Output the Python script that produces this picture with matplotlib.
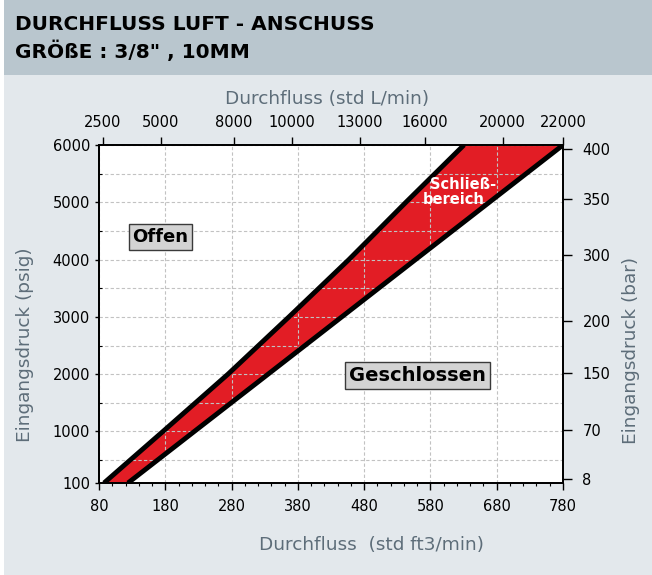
import matplotlib
matplotlib.use('Agg')
import matplotlib.pyplot as plt
from matplotlib.patches import Rectangle
from matplotlib.ticker import MultipleLocator, FixedLocator

# Band limits (Eingangsdruck psig -> Durchfluss std ft3/min)
psi_pts = [100, 500, 1000, 2000, 3000, 4000, 5000, 6000]
upper_cfm = [87.5, 127, 176.5, 274.6, 366.6, 457, 543, 630.6]
lower_cfm = [123.7, 168.2, 223.8, 335.1, 446.3, 557.5, 668.8, 780]

# bottom axis
cfm_ticks = [80, 180, 280, 380, 480, 580, 680, 780]
# left axis
psi_ticks = [100, 1000, 2000, 3000, 4000, 5000, 6000]
# top axis (std L/min), positions in cfm as drawn in the original
lpm_labels = [2500, 5000, 8000, 10000, 13000, 16000, 20000, 22000]
lpm_pos_cfm = [86, 173, 283, 371, 474, 572, 689, 780]
# right axis (bar), positions in psig as drawn in the original
bar_labels = [8, 70, 150, 200, 300, 350, 400]
bar_pos_psi = [170, 1025, 2020, 2928, 4080, 5057, 5930]

TITLE1 = 'DURCHFLUSS LUFT - ANSCHUSS'
TITLE2 = 'GRÖßE : 3/8" , 10MM'

W, H = 652, 575
HEADER_C = '#b9c6ce'
BG_C = '#e3e8ec'
LABEL_C = '#5d6d79'
RED = '#e21d25'

plt.rcParams['font.family'] = ['DejaVu Sans']

fig = plt.figure(figsize=(W / 100, H / 100), dpi=100)
fig.patch.set_facecolor('white')

# header and background panels
fig.patches.append(Rectangle((4 / W, 1 - 75 / H), 1, 75 / H, transform=fig.transFigure,
                             facecolor=HEADER_C, edgecolor='none', zorder=-5))
fig.patches.append(Rectangle((4 / W, 0), 1, 1 - 75 / H, transform=fig.transFigure,
                             facecolor=BG_C, edgecolor='none', zorder=-5))
fig.text(15 / W, 1 - 30.5 / H, TITLE1, fontsize=14.5, fontweight='bold', va='baseline', ha='left')
fig.text(15 / W, 1 - 58 / H, TITLE2, fontsize=14.5, fontweight='bold', va='baseline', ha='left')

ax = fig.add_axes([99 / W, 1 - 483 / H, 464 / W, 338 / H])
ax.set_facecolor('white')

ax.fill_betweenx(psi_pts, upper_cfm, lower_cfm, color=RED, linewidth=0, zorder=0.5)
ax.plot(upper_cfm, psi_pts, color='black', lw=3.5, zorder=2, solid_capstyle='butt')
ax.plot(lower_cfm, psi_pts, color='black', lw=3.5, zorder=2, solid_capstyle='butt')

ax.set_xlim(80, 780)
ax.set_ylim(100, 6000)
ax.set_xticks(cfm_ticks)
ax.set_yticks(psi_ticks)
ax.xaxis.set_minor_locator(MultipleLocator(20))
ax.yaxis.set_minor_locator(FixedLocator([500, 1500, 2500, 3500, 4500, 5500]))

ax.grid(True, which='major', axis='x', color='#c2c2c2', lw=0.8, ls=(0, (3, 2)))
ax.grid(True, which='both', axis='y', color='#c2c2c2', lw=0.8, ls=(0, (3, 2)))
ax.set_axisbelow('line')

ax.tick_params(axis='x', which='major', direction='out', length=5, width=1, pad=6.5, labelsize=10.5)
ax.tick_params(axis='x', which='minor', direction='out', length=2, width=0.8)
ax.tick_params(axis='y', which='major', direction='out', length=3, width=1, pad=3.5, labelsize=10.5)
ax.tick_params(axis='y', which='minor', direction='in', length=2.5, width=0.8)
for s in ax.spines.values():
    s.set_linewidth(1.1)

# top axis
axt = ax.twiny()
axt.set_xlim(80, 780)
axt.set_xticks(lpm_pos_cfm)
axt.set_xticklabels([str(v) for v in lpm_labels])
axt.tick_params(axis='x', direction='out', length=6, width=1, pad=4.5, labelsize=10.5)

# right axis
axr = ax.twinx()
axr.set_ylim(100, 6000)
axr.set_yticks(bar_pos_psi)
axr.set_yticklabels([str(v) for v in bar_labels])
axr.tick_params(axis='y', direction='out', length=6.5, width=1, pad=7.5, labelsize=10.5)

for a in (axt, axr):
    for s in a.spines.values():
        s.set_linewidth(1.1)

# region labels
box = dict(boxstyle='square,pad=0.22', facecolor='#d3d3d3', edgecolor='#3a3a3a', lw=1)
ax.text(172.8, 4394, 'Offen', fontsize=13, fontweight='bold', ha='center', va='center',
        bbox=box, zorder=5)
ax.text(560.5, 1977, 'Geschlossen', fontsize=14, fontweight='bold', ha='center', va='center',
        bbox=box, zorder=5)
ax.text(629, 5319, 'Schließ-', fontsize=10.5, fontweight='bold', color='white',
        ha='center', va='center', zorder=5)
ax.text(614.4, 5057, 'bereich', fontsize=10.5, fontweight='bold', color='white',
        ha='center', va='center', zorder=5)

# axis titles
fig.text(327 / W, 1 - 99 / H, 'Durchfluss (std L/min)', fontsize=13.3, color=LABEL_C,
         ha='center', va='center')
fig.text(371.5 / W, 1 - 545 / H, 'Durchfluss  (std ft3/min)', fontsize=13.3, color=LABEL_C,
         ha='center', va='center')
fig.text(25.5 / W, 1 - 345 / H, 'Eingangsdruck (psig)', fontsize=13.3, color=LABEL_C,
         ha='center', va='center', rotation=90)
fig.text(631 / W, 1 - 350 / H, 'Eingangsdruck (bar)', fontsize=13.3, color=LABEL_C,
         ha='center', va='center', rotation=90)

fig.savefig('out.png', dpi=100)
